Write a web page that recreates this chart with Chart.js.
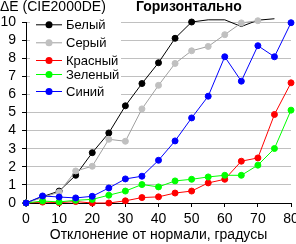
<!DOCTYPE html>
<html>
<head>
<meta charset="utf-8">
<script src="https://cdn.jsdelivr.net/npm/chart.js@4"></script>
<style>
  html, body { margin: 0; padding: 0; background: #fff; }
  #wrap { width: 296px; height: 244px; }
</style>
</head>
<body>
<div id="wrap"><canvas id="deChart" width="296" height="244"></canvas></div>
<script>
// angles (x) and ΔE values per series
var angles = [0, 5, 10, 15, 20, 25, 30, 35, 40, 45, 50, 55, 60, 65, 70, 75, 80];
var white = [0, 0.35, 0.66, 1.53, 2.78, 3.87, 5.37, 6.6, 7.75, 9.1, 10.0, 10.12, 10.12, 9.75, 10.1, 10.18, null];
var gray  = [0, 0.3, 0.6, 1.77, 2.03, 3.52, 3.41, 5.2, 6.5, 7.71, 8.41, 8.65, 9.3, 9.95, 10.07, null, null];
var red   = [0, 0.05, 0.02, 0.08, 0, 0, 0.12, 0.3, 0.34, 0.55, 0.66, 1.11, 1.31, 2.31, 2.49, 4.89, 6.64];
var green = [0, 0.11, 0.06, 0.15, 0.2, 0.43, 0.66, 1.02, 0.89, 1.22, 1.31, 1.44, 1.53, 1.53, 2.09, 3.01, 5.13];
var blue  = [0, 0.39, 0.33, 0.28, 0.37, 0.83, 1.33, 1.48, 2.36, 3.43, 4.7, 5.9, 8.08, 6.73, 8.69, 8.08, 9.96];
var seriesNames = ['Белый', 'Серый', 'Красный', 'Зеленый', 'Синий'];
var yTicks = [0, 1, 2, 3, 4, 5, 6, 7, 8, 9, 10];

var FONT = '"Liberation Sans", Arial, sans-serif';

// the white series has no markers past 50
var whiteRadius = white.map(function (v, i) { return angles[i] > 50 ? 0 : 3; });

function ds(label, data, line, fill, order, radius) {
  return {
    label: label,
    data: data,
    borderColor: line,
    backgroundColor: fill,
    pointBackgroundColor: fill,
    pointBorderColor: fill,
    borderWidth: 1,
    pointRadius: radius || 3,
    pointBorderWidth: 1,
    pointHoverRadius: 3,
    tension: 0,
    clip: false,
    order: order
  };
}

// header texts + legend box drawn inside the plot
var decor = {
  id: 'decor',
  beforeDatasetsDraw: function (chart) {
    var c = chart.ctx;
    c.save();
    c.fillStyle = '#fff';
    c.fillRect(30, 14, 91, 87);
    var rows = [24.3, 42.3, 60, 74, 91];
    chart.data.datasets.forEach(function (d, i) {
      var y = rows[i];
      c.strokeStyle = d.borderColor;
      c.lineWidth = 1;
      c.beginPath();
      c.moveTo(36, y + 0.5);
      c.lineTo(62, y + 0.5);
      c.stroke();
      c.fillStyle = d.pointBackgroundColor;
      c.beginPath();
      c.arc(49, y + 0.5, 3.5, 0, Math.PI * 2);
      c.fill();
      c.fillStyle = '#000';
      c.font = '13px ' + FONT;
      c.textBaseline = 'middle';
      c.textAlign = 'left';
      c.fillText(d.label, 66, y + 1);
    });
    c.restore();
  },
  afterDraw: function (chart) {
    var c = chart.ctx;
    c.save();
    c.fillStyle = '#000';
    c.textBaseline = 'alphabetic';
    c.textAlign = 'left';
    c.font = '14px ' + FONT;
    c.fillText('ΔE (CIE2000DE)', 0, 11);
    c.font = 'bold 14px ' + FONT;
    c.fillText('Горизонтально', 136, 11);
    c.restore();
  }
};

var ctx = document.getElementById('deChart').getContext('2d');

var chart = new Chart(ctx, {
  type: 'line',
  data: {
    labels: angles,
    datasets: [
      ds(seriesNames[0], white, '#000000', '#000000', 4, whiteRadius),
      ds(seriesNames[1], gray, '#a0a0a0', '#c0c0c0', 3),
      ds(seriesNames[2], red, '#ff0000', '#ff0000', 2),
      ds(seriesNames[3], green, '#00ff00', '#00ff00', 1),
      ds(seriesNames[4], blue, '#0000ff', '#0000ff', 0)
    ]
  },
  options: {
    responsive: false,
    animation: false,
    devicePixelRatio: 1,
    layout: { padding: { top: 22, right: 5, left: 0, bottom: 0 } },
    plugins: {
      legend: { display: false },
      tooltip: { enabled: false }
    },
    scales: {
      x: {
        type: 'linear',
        min: 0,
        max: 80,
        ticks: {
          stepSize: 10,
          color: '#000',
          padding: 5,
          maxRotation: 0,
          font: { family: FONT, size: 14, lineHeight: 1.0 }
        },
        grid: { drawOnChartArea: false, drawTicks: true, tickLength: 4, tickColor: '#000' },
        border: { color: '#000', width: 1 },
        title: {
          display: true,
          text: 'Отклонение от нормали, градусы',
          color: '#000',
          padding: { top: 2, bottom: 0 },
          font: { family: FONT, size: 14, lineHeight: 1.2 }
        },
        afterFit: function (s) {
          s.height = 41;
          s.paddingLeft = 0;
          s.paddingRight = 0;
        }
      },
      y: {
        min: 0,
        max: 10,
        afterBuildTicks: function (s) {
          s.ticks = yTicks.map(function (v) { return { value: v }; });
        },
        ticks: {
          color: '#000',
          padding: 6,
          font: { family: FONT, size: 14, lineHeight: 1.0 }
        },
        grid: { color: '#c0c0c0', tickLength: 4, tickColor: '#000' },
        border: { color: '#000', width: 1 },
        afterFit: function (s) {
          s.width = 26;
          s.paddingTop = 0;
          s.paddingBottom = 0;
        }
      }
    }
  },
  plugins: [decor]
});
</script>
</body>
</html>
